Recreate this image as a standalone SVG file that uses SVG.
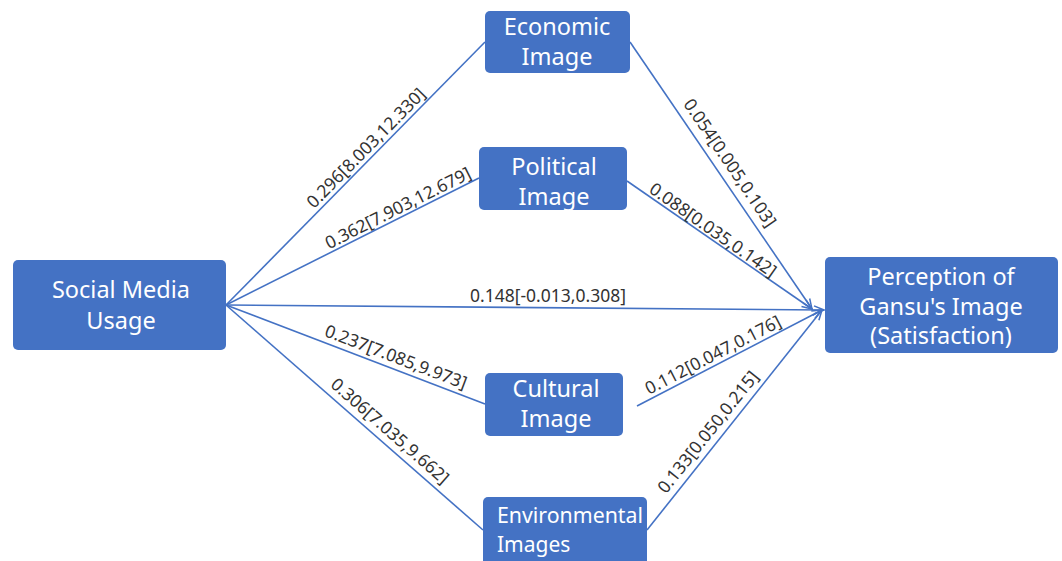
<svg xmlns="http://www.w3.org/2000/svg" width="1062" height="561" viewBox="0 0 1062 561">
<defs>
<style>
.box{fill:#4472C4;}
.nt{font-family:"Noto Sans","Liberation Sans",sans-serif;font-size:23.5px;fill:#ffffff;text-anchor:middle;}
.ln{stroke:#4472C4;stroke-width:1.6;fill:none;}
.lb{font-family:"Noto Sans","Liberation Sans",sans-serif;font-size:17.5px;fill:#333333;text-anchor:middle;}
</style>
<marker id="arr" viewBox="0 0 12 10" refX="11" refY="5" markerWidth="12" markerHeight="10" markerUnits="userSpaceOnUse" orient="auto">
<path d="M1,1 L11,5 L1,9" fill="none" stroke="#4472C4" stroke-width="1.5"/>
</marker>
</defs>
<rect width="1062" height="561" fill="#ffffff"/>
<g id="connectors">
<line class="ln" x1="226" y1="305" x2="485" y2="42"/>
<line class="ln" x1="226" y1="305" x2="479" y2="178"/>
<line class="ln" x1="226" y1="305" x2="485" y2="404"/>
<line class="ln" x1="226" y1="305" x2="483" y2="530"/>
<line class="ln" x1="226" y1="305" x2="824" y2="310" marker-end="url(#arr)"/>
<line class="ln" x1="630" y1="42" x2="812" y2="309" marker-end="url(#arr)"/>
<line class="ln" x1="627" y1="181" x2="812" y2="309" marker-end="url(#arr)"/>
<line class="ln" x1="637" y1="406" x2="822" y2="310" marker-end="url(#arr)"/>
<line class="ln" x1="647" y1="530" x2="822" y2="310" marker-end="url(#arr)"/>
<text class="lb" transform="translate(366,148) rotate(-45.4)" y="6">0.296[8.003,12.330]</text>
<text class="lb" transform="translate(398,208) rotate(-26.7)" y="6">0.362[7.903,12.679]</text>
<text class="lb" x="548" y="302">0.148[-0.013,0.308]</text>
<text class="lb" transform="translate(396,357) rotate(20.9)" y="6">0.237[7.085,9.973]</text>
<text class="lb" transform="translate(390,431) rotate(41.2)" y="6">0.306[7.035,9.662]</text>
<text class="lb" transform="translate(730,163) rotate(55.9)" y="6">0.054[0.005,0.103]</text>
<text class="lb" transform="translate(713,230) rotate(35)" y="6">0.088[0.035,0.142]</text>
<text class="lb" transform="translate(713,355) rotate(-27.4)" y="6">0.112[0.047,0.176]</text>
<text class="lb" transform="translate(708,432) rotate(-51.5)" y="6">0.133[0.050,0.215]</text>
</g>
<g id="social-media">
<rect class="box" x="13" y="260" width="213" height="90" rx="5"/>
<text class="nt" x="121" y="298">Social Media</text>
<text class="nt" x="121" y="329">Usage</text>
</g>
<g id="economic">
<rect class="box" x="485" y="11" width="145" height="62" rx="5"/>
<text class="nt" x="557" y="35">Economic</text>
<text class="nt" x="557" y="65">Image</text>
</g>
<g id="political">
<rect class="box" x="479" y="147" width="148" height="63" rx="5"/>
<text class="nt" x="554" y="175">Political</text>
<text class="nt" x="554" y="205">Image</text>
</g>
<g id="cultural">
<rect class="box" x="485" y="373" width="138" height="63" rx="5"/>
<text class="nt" x="556" y="397">Cultural</text>
<text class="nt" x="556" y="427">Image</text>
</g>
<g id="environmental">
<rect class="box" x="483" y="497" width="164" height="72" rx="5"/>
<text class="nt" x="497" y="523" style="text-anchor:start;font-size:21px" textLength="146" lengthAdjust="spacingAndGlyphs">Environmental</text>
<text class="nt" x="497" y="552" style="text-anchor:start;font-size:21px">Images</text>
</g>
<g id="perception">
<rect class="box" x="825" y="257" width="233" height="96" rx="5"/>
<text class="nt" x="941" y="285">Perception of</text>
<text class="nt" x="941" y="315">Gansu's Image</text>
<text class="nt" x="941" y="344">(Satisfaction)</text>
</g>
</svg>
